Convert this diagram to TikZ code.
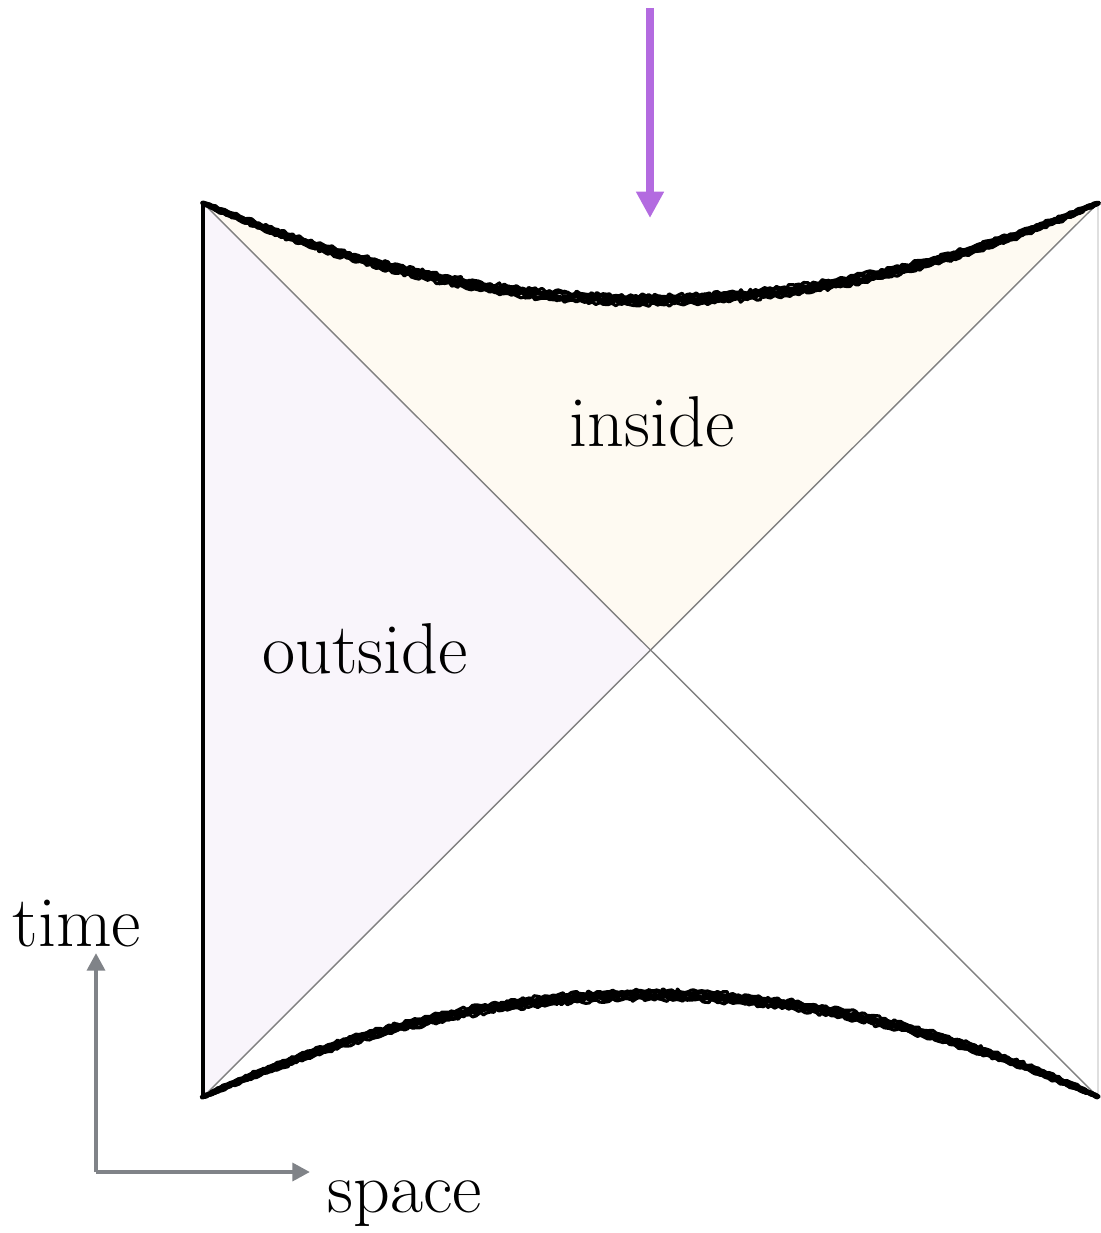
\documentclass[tikz,border=0pt]{standalone}
\usetikzlibrary{arrows.meta}

\definecolor{penpurple}{HTML}{B36BE0}
\definecolor{axisgray}{HTML}{808388}
\definecolor{insidecol}{HTML}{FEFAF2}
\definecolor{outsidecol}{HTML}{F9F5FB}

\begin{document}
\begin{tikzpicture}[
        x=0.02cm, y=-0.02cm,
        label/.style={inner sep=0pt, anchor=base, font=\fontsize{41}{41}\selectfont},
        horizon/.style={draw=gray, line width=0.8pt},
        boundary/.style={draw=black, line width=2.2pt},
        sing/.style={draw=black, line width=2.2pt, line join=round, line cap=round},
        axis/.style={-{Triangle[length=10pt, width=10pt]}, draw=axisgray, fill=axisgray, line width=2.6pt},
        infall/.style={-{Triangle[length=15pt, width=15pt]}, draw=penpurple, fill=penpurple, line width=4pt}
    ]
        \useasboundingbox (0,0) rectangle (1100,1233);
        \pgfmathsetseed{7}

        % Corners of the diagram
        \coordinate (tl) at (203,203);
        \coordinate (tr) at (1098,203);
        \coordinate (bl) at (203,1097);
        \coordinate (br) at (1098,1097);
        \coordinate (mid) at (650,650);

        % Regions
        \fill[insidecol] plot[domain=0:1, samples=60] ({203+895*\x}, {203+388*\x*(1-\x)}) -- (mid) -- cycle;
        \fill[outsidecol] (tl) -- (mid) -- (bl) -- cycle;

        % Horizons
        \draw[horizon] (tl) -- (br);
        \draw[horizon] (bl) -- (tr);
        \draw[draw=gray!25, line width=0.6pt] (tr) -- (br);

        % Boundary
        \draw[boundary] (tl) -- (bl);

        % Singularities, drawn as rough strokes
        \foreach \k/\w in {-4.4/1.8pt, -2.2/2.4pt, 0/2.8pt, 2.2/2.4pt, 4.4/1.8pt} {
            \draw[sing, line width=\w] plot[domain=0:1, samples=300]
                ({203+895*\x+1.2*rand}, {203+388*\x*(1-\x)+(\k+2*rand)*sin(180*\x)^0.3});
            \draw[sing, line width=\w] plot[domain=0:1, samples=300]
                ({203+895*\x+1.2*rand}, {1097-408*\x*(1-\x)+(\k+2*rand)*sin(180*\x)^0.3});
        }

        % Labels
        \node[label] (inside) at (652,446) {inside};
        \node[label] (outside) at (365,673) {outside};

        % Infalling arrow
        \coordinate (fallstart) at (650,8);
        \coordinate (fallend) at (650,218);
        \draw[infall] (fallstart) -- (fallend);

        % Axes
        \coordinate (origin) at (96,1172);
        \coordinate (ttip) at (96,953);
        \coordinate (stip) at (310,1172);
        \draw[axis] (origin) -- (ttip);
        \draw[axis] (origin) -- (stip);
        \node[label] (time) at (77,946) {time};
        \node[label] (space) at (405,1212) {space};
    \end{tikzpicture}
\end{document}
